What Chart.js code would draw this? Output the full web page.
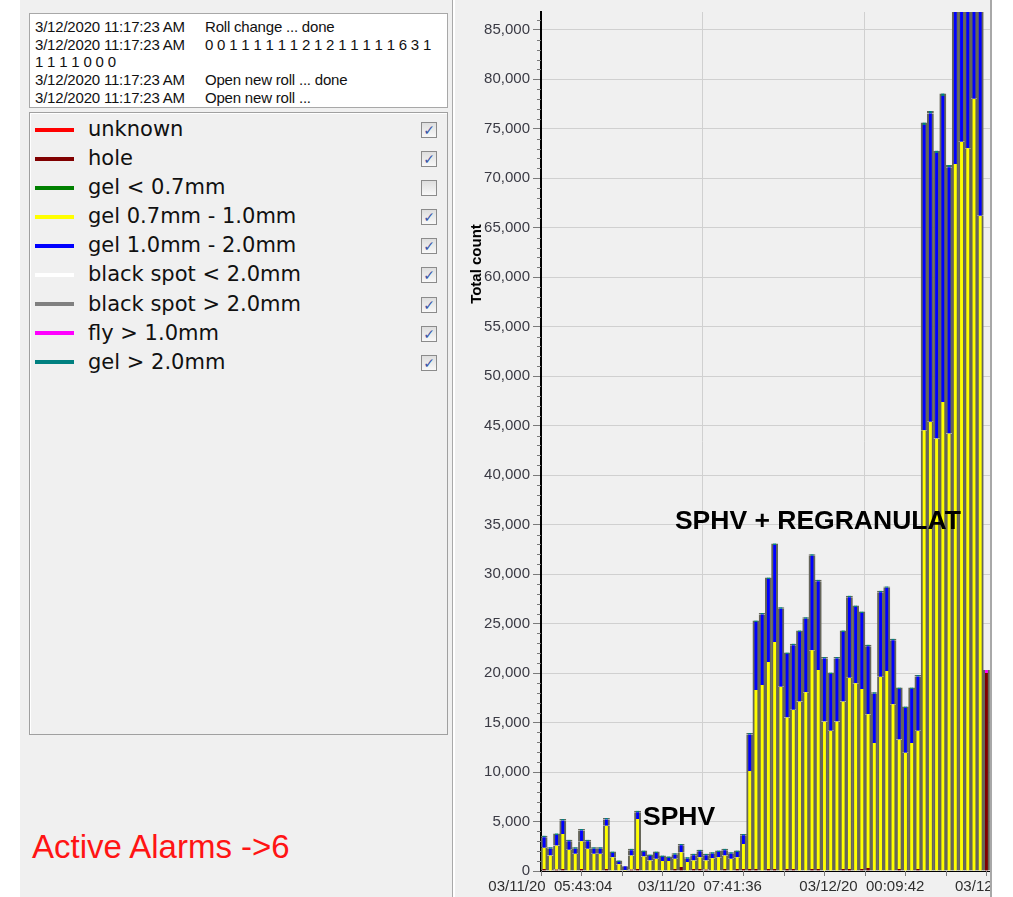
<!DOCTYPE html>
<html>
<head>
<meta charset="utf-8">
<title>Total count</title>
<script src="https://cdn.jsdelivr.net/npm/chart.js@4.4.1/dist/chart.umd.min.js"></script>
<style>
    body {
        margin: 0;
        width: 1013px;
        height: 897px;
        background: #fff;
        position: relative;
        overflow: hidden;
        font-family: 'Liberation Sans', Arial, sans-serif;
    }
    #panel {
        position: absolute;
        left: 20px;
        top: 0;
        width: 432px;
        height: 897px;
        background: #f0f0f0;
        border-right: 1px solid #a9a9a9;
    }
    #log {
        position: absolute;
        left: 9px;
        top: 13px;
        width: 419px;
        height: 95px;
        box-sizing: border-box;
        background: #fff;
        border: 1px solid #a8a8a8;
        padding: 4px 0 0 5px;
        font-size: 15px;
        line-height: 17.7px;
        color: #111;
        white-space: pre;
        letter-spacing: -0.2px;
    }
    #log .ts {
        display: inline-block;
        width: 170px;
    }
    #legend {
        position: absolute;
        left: 9px;
        top: 112px;
        width: 419px;
        height: 623px;
        box-sizing: border-box;
        border: 1px solid #a0a0a0;
        box-shadow: inset 1px 1px 0 #fff;
        padding-top: 2px;
    }
    .row {
        position: relative;
        height: 29.1px;
        line-height: 29.1px;
        font-family: 'DejaVu Sans', sans-serif;
        font-size: 21px;
        color: #111;
    }
    .row .swatch {
        position: absolute;
        left: 5px;
        top: 12.5px;
        width: 39px;
        height: 4px;
    }
    .row .name {
        position: absolute;
        left: 58px;
        top: 0;
    }
    .row .box {
        position: absolute;
        left: 391px;
        top: 7px;
        width: 16px;
        height: 16px;
        box-sizing: border-box;
        border: 1px solid #8b8b8b;
        background: linear-gradient(#dedede, #f8f8f8);
        color: #3a56a8;
        font-size: 14px;
        line-height: 14px;
        text-align: center;
        font-weight: bold;
    }
    #alarms {
        position: absolute;
        left: 12px;
        top: 830px;
        font-size: 33px;
        line-height: 33px;
        color: #ff1414;
    }
    #chartBox {
        position: absolute;
        left: 455px;
        top: 0;
        width: 535px;
        height: 897px;
        overflow: hidden;
        background: #f0f0f0;
        border-right: 2px solid #a8a8a8;
    }
    #myChart {
        position: absolute;
        left: 0;
        top: 0;
    }
    #yTitle {
        position: absolute;
        left: -29.5px;
        top: 256px;
        width: 100px;
        line-height: 16px;
        text-align: center;
        font-size: 15px;
        font-weight: bold;
        color: #000;
        transform: rotate(-90deg);
    }
</style>
</head>
<body>
<div id="panel">
    <div id="log"></div>
    <div id="legend"></div>
    <div id="alarms">Active Alarms -&gt;6</div>
</div>
<div id="chartBox">
    <canvas id="myChart" width="700" height="897"></canvas>
    <div id="yTitle">Total count</div>
</div>
<script>
// Log box lines
const logLines = [
    ['3/12/2020 11:17:23 AM', 'Roll change ... done'],
    ['3/12/2020 11:17:23 AM', '0 0 1 1 1 1 1 1 2 1 2 1 1 1 1 1 6 3 1'],
    ['', '1 1 1 1 0 0 0'],
    ['3/12/2020 11:17:23 AM', 'Open new roll ... done'],
    ['3/12/2020 11:17:23 AM', 'Open new roll ...']
];

// Legend entries (name, colour, checked)
const seriesNames = ['unknown', 'hole', 'gel < 0.7mm', 'gel 0.7mm - 1.0mm', 'gel 1.0mm - 2.0mm',
    'black spot < 2.0mm', 'black spot > 2.0mm', 'fly > 1.0mm', 'gel > 2.0mm'];
const seriesColors = ['#ff0000', '#800000', '#008000', '#ffff00', '#0000ff',
    '#ffffff', '#808080', '#ff00ff', '#008080'];
const seriesChecked = [true, true, false, true, true, true, true, true, true];

// X tick labels and the bar slot each one sits under
// (the last one is cut off by the right edge of the view, only "03/12" shows)
const tickLabels = ['03/11/20  05:43:04', '03/11/20  07:41:36', '03/12/20  00:09:42', '03/12/20\u2007\u2007\u2007\u2007\u2007\u2007\u2007\u2007'];
const tickAt = [1, 25, 51, 76];
const slotCount = 80;

// Y axis: visible top of the view and tick step
const yTop = 86800;
const yStep = 5000;

// Counts per roll (72 visible bars)
const unknownCount = [];
const holeCount = [
    200, 0, 150, 200, 0, 0, 200, 0, 0, 0,
    200, 0, 0, 0, 150, 200, 0, 0, 0, 0,
    0, 200, 400, 0, 200, 200, 150, 0, 0, 200,
    0, 200, 200, 200, 200, 0, 200, 200, 0, 200,
    200, 0, 0, 200, 200, 0, 0, 0, 200, 200,
    0, 200, 300, 0, 0, 0, 0, 200, 0, 0,
    200, 0, 0, 0, 0, 0, 0, 0, 0, 0,
    0, 20000
];
const gelSmallCount = [];
const gelMidCount = [
    2140, 1570, 2420, 3550, 2150, 1740, 2800, 2240, 1740, 1740,
    4380, 1400, 670, 100, 1420, 5050, 1470, 1070, 1240, 1000,
    1000, 1040, 1500, 900, 870, 1200, 920, 1300, 1400, 1370,
    1240, 1200, 2540, 9900, 18090, 18800, 20930, 22940, 18630, 15320,
    16090, 17120, 18060, 22100, 20100, 15110, 14180, 15110, 16920, 19330,
    18960, 18200, 15550, 12940, 19630, 20200, 16850, 13080, 11940, 12940,
    13980, 44530, 45400, 43700, 47380, 44200, 71450, 73690, 73020, 78030,
    66200, 0
];
// bars 66-70 run past the top of the view, their blue part is a guess
const gelLargeCount = [
    1080, 680, 1080, 1350, 850, 510, 1100, 760, 510, 510,
    620, 420, 250, 370, 520, 690, 450, 450, 580, 420,
    320, 410, 690, 350, 520, 590, 520, 450, 520, 520,
    510, 520, 860, 3690, 6860, 7130, 8380, 9810, 7870, 6400,
    6530, 7040, 7440, 9550, 8980, 6370, 5730, 6370, 7040, 8140,
    7710, 7670, 6870, 4970, 8540, 8410, 6470, 5100, 4530, 5440,
    5470, 30850, 31150, 28840, 30940, 26900, 20000, 20000, 20000, 15000,
    25000, 0
];
const spotSmallCount = [];
const spotLargeCount = [];
const flyCount = [
    0, 0, 0, 0, 0, 0, 0, 0, 0, 0,
    0, 0, 0, 0, 0, 0, 0, 0, 0, 0,
    0, 0, 0, 0, 0, 0, 0, 0, 0, 0,
    0, 0, 0, 0, 0, 0, 0, 0, 0, 0,
    0, 0, 0, 0, 0, 0, 0, 0, 0, 0,
    0, 0, 0, 0, 0, 0, 0, 0, 0, 0,
    0, 0, 0, 0, 0, 0, 0, 0, 0, 0,
    0, 300
];
const gelHugeCount = [
    150, 150, 150, 150, 150, 150, 150, 150, 150, 150,
    150, 150, 150, 0, 150, 150, 150, 150, 150, 150,
    150, 150, 150, 150, 150, 150, 150, 150, 150, 150,
    150, 150, 150, 150, 150, 150, 150, 150, 150, 150,
    150, 150, 150, 150, 150, 150, 150, 150, 150, 150,
    150, 150, 150, 150, 150, 150, 150, 150, 150, 150,
    150, 250, 250, 250, 250, 250, 0, 0, 0, 0,
    0, 0
];
const seriesData = [unknownCount, holeCount, gelSmallCount, gelMidCount, gelLargeCount,
    spotSmallCount, spotLargeCount, flyCount, gelHugeCount];

// Chart annotations
const notes = [
    { text: 'SPHV', at: 15.87, value: 4680 },
    { text: 'SPHV + REGRANULAT', at: 21.0, value: 34600 }
];

// Log box
const $log = document.getElementById('log');
logLines.forEach(l => {
    const div = document.createElement('div');
    if (l[0] !== '') {
        const ts = document.createElement('span');
        ts.className = 'ts';
        ts.textContent = l[0];
        div.appendChild(ts);
    }
    div.appendChild(document.createTextNode(l[1]));
    $log.appendChild(div);
});

// Legend
const $legend = document.getElementById('legend');
seriesNames.forEach((name, i) => {
    const row = document.createElement('div');
    row.className = 'row';
    row.innerHTML = '<span class="swatch"></span><span class="name"></span><span class="box"></span>';
    row.querySelector('.swatch').style.background = seriesColors[i];
    row.querySelector('.name').textContent = name;
    row.querySelector('.box').textContent = seriesChecked[i] ? '\u2713' : '';
    $legend.appendChild(row);
});

// Minor ticks + text notes
const extras = {
    id: 'extras',
    afterDraw(chart) {
        const { ctx, chartArea, scales: { x, y } } = chart;
        ctx.save();
        ctx.strokeStyle = '#7a7a7a';
        ctx.lineWidth = 1;
        ctx.beginPath();
        for (let v = 1000; v <= y.max; v += 1000) {
            if (v % yStep === 0) continue;
            const py = Math.round(y.getPixelForValue(v)) + 0.5;
            ctx.moveTo(chartArea.left - 4, py);
            ctx.lineTo(chartArea.left, py);
        }
        for (let e = -0.5; e <= slotCount; e += 6.5) {
            const px = Math.round(x.getPixelForValue(e)) + 0.5;
            ctx.moveTo(px, chartArea.bottom);
            ctx.lineTo(px, chartArea.bottom + 5);
        }
        ctx.stroke();

        ctx.fillStyle = '#000';
        ctx.font = 'bold 26.5px "Liberation Sans", Arial, sans-serif';
        ctx.textAlign = 'left';
        ctx.textBaseline = 'alphabetic';
        notes.forEach(n => {
            ctx.fillText(n.text, x.getPixelForValue(n.at), y.getPixelForValue(n.value));
        });
        ctx.restore();
    }
};

Chart.defaults.font.family = "'Liberation Sans', Arial, sans-serif";

const data = {
    labels: Array.from({ length: slotCount }, (_, i) => String(i)),
    datasets: seriesNames.map((name, i) => ({
        label: name,
        data: seriesData[i],
        backgroundColor: seriesColors[i],
        borderColor: '#66665a',
        borderWidth: { left: 2, right: 2, top: 0, bottom: 0 },
        borderSkipped: false,
        barPercentage: 1,
        categoryPercentage: 1,
        hidden: !seriesChecked[i]
    }))
};

const config = {
    type: 'bar',
    data: data,
    options: {
        responsive: false,
        animation: false,
        layout: { padding: { top: 5, right: 115.6, left: 0, bottom: 0 } },
        plugins: {
            legend: { display: false },
            tooltip: { enabled: false }
        },
        scales: {
            x: {
                stacked: true,
                offset: true,
                grid: {
                    offset: true,
                    drawTicks: false,
                    color: (c) => (c.index > 0 && c.index % 26 === 0) ? '#d0d0d0' : 'rgba(0,0,0,0)'
                },
                border: { color: '#000', width: 1 },
                ticks: {
                    autoSkip: false,
                    maxRotation: 0,
                    minRotation: 0,
                    padding: 7,
                    color: '#2e2e2e',
                    font: { size: 15 },
                    callback: (value, index) => {
                        const k = tickAt.indexOf(index);
                        return k >= 0 ? tickLabels[k] : '';
                    }
                },
                afterFit: (s) => { s.height = 26; }
            },
            y: {
                stacked: true,
                min: 0,
                max: yTop,
                grid: {
                    color: '#d0d0d0',
                    tickLength: 8,
                    tickColor: '#7a7a7a'
                },
                border: { color: '#000', width: 2 },
                ticks: {
                    padding: 3,
                    color: '#3a3a44',
                    font: { size: 15 },
                    callback: (v) => v.toLocaleString('en-US')
                },
                // ticks every 5,000 up to the top of the view
                afterBuildTicks: (s) => {
                    const t = [];
                    for (let v = 0; v <= yTop; v += yStep) t.push({ value: v });
                    s.ticks = t;
                },
                afterFit: (s) => { s.width = 86; }
            }
        }
    },
    plugins: [extras]
};

const graph = new Chart(
    document.getElementById('myChart'),
    config
);
</script>
</body>
</html>
